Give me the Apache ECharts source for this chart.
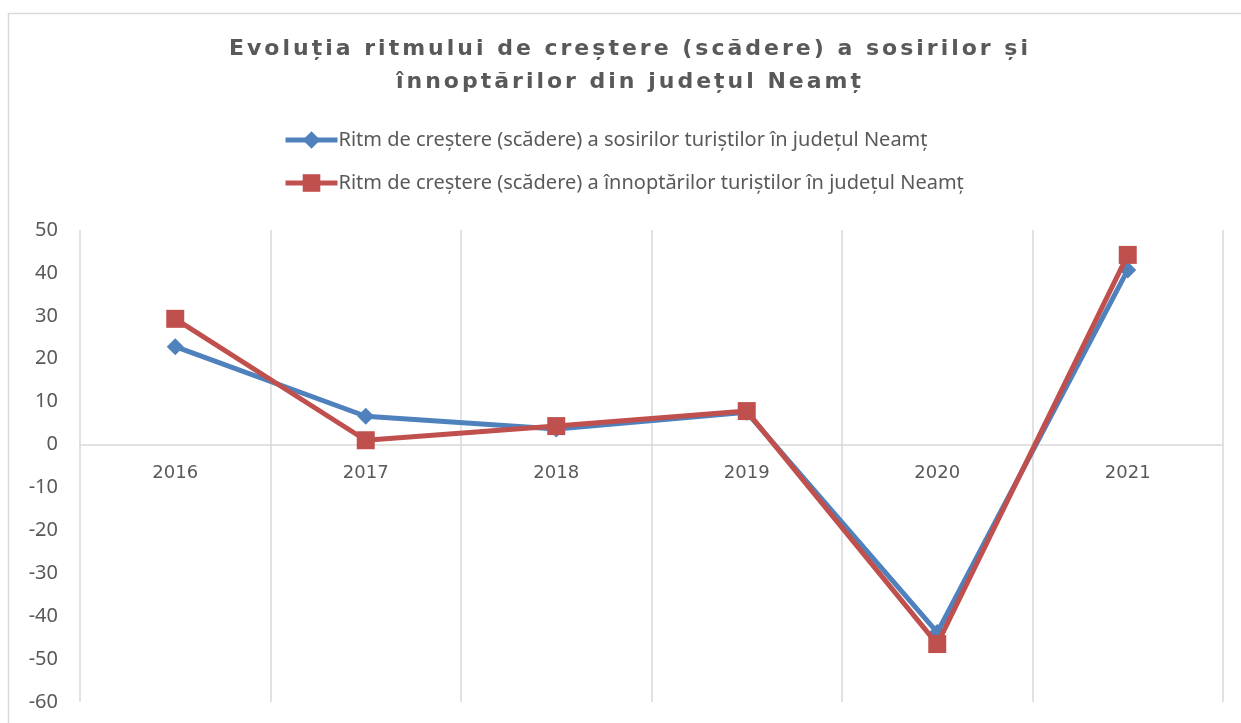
<!DOCTYPE html>
<html lang="ro">
<head>
    <meta charset="UTF-8">
    <title>Evoluția ritmului de creștere</title>
    <script src="https://cdn.jsdelivr.net/npm/echarts@6/dist/echarts.min.js"></script>
    <style>
        html, body { margin: 0; padding: 0; background: #fff; }
        .wrap { position: relative; width: 1241px; height: 723px; }
        #chart { width: 1241px; height: 723px; }
        /* titlul e in HTML pentru letter-spacing */
        .titlu {
            position: absolute;
            left: 0;
            top: 31px;
            width: 1260px;
            text-align: center;
            font-family: 'DejaVu Sans', sans-serif;
            font-weight: bold;
            font-size: 22px;
            line-height: 33px;
            letter-spacing: 3px;
            color: #595959;
            pointer-events: none;
        }
    </style>
</head>
<body>
    <div class="wrap">
        <div id="chart"></div>
        <div class="titlu">Evoluția ritmului de creștere (scădere) a sosirilor și<br>înnoptărilor din județul Neamț</div>
    </div>
<script>
    // date
    var years = ['2016', '2017', '2018', '2019', '2020', '2021'];
    var sosiri = [22.8, 6.6, 3.6, 7.5, -43.8, 40.7];
    var innoptari = [29.3, 1.0, 4.3, 7.8, -46.5, 44.2];
    var numeSosiri = 'Ritm de creștere (scădere) a sosirilor turiștilor în județul Neamț';
    var numeInnoptari = 'Ritm de creștere (scădere) a înnoptărilor turiștilor în județul Neamț';

    var myChart = echarts.init(document.getElementById('chart'));
    var option = {
        animation: false,
        graphic: [{
            type: 'rect',
            shape: { x: 8.5, y: 13.5, width: 1300, height: 800 },
            style: { fill: null, stroke: '#d9d9d9', lineWidth: 1.5 },
            silent: true
        }],
        legend: {
            orient: 'vertical',
            left: 278,
            top: 125,
            itemWidth: 52,
            itemHeight: 22,
            itemGap: 23,
            lineStyle: { width: 5 },
            textStyle: {
                fontFamily: 'Noto Sans',
                fontSize: 20,
                color: '#595959',
                padding: [0, 0, 0, -4]
            },
            data: [numeSosiri, numeInnoptari]
        },
        grid: {
            left: 80,
            right: 18,
            top: 230,
            bottom: 21,
            outerBoundsMode: 'none'
        },
        xAxis: {
            type: 'category',
            data: years,
            boundaryGap: true,
            position: 'bottom',
            offset: -257.5,
            axisLine: { onZero: false, lineStyle: { color: '#d9d9d9', width: 1.5 } },
            axisTick: { show: false },
            axisLabel: {
                margin: 20,
                fontFamily: 'DejaVu Sans',
                fontSize: 18,
                color: '#595959'
            },
            splitLine: { show: true, lineStyle: { color: '#d9d9d9', width: 1.5 } }
        },
        yAxis: {
            type: 'value',
            min: -60,
            max: 50,
            interval: 10,
            axisLine: { show: false },
            axisTick: { show: false },
            splitLine: { show: false },
            axisLabel: {
                margin: 22,
                fontFamily: 'Noto Sans',
                fontSize: 20,
                color: '#595959'
            }
        },
        series: [{
            name: numeSosiri,
            type: 'line',
            data: sosiri,
            symbol: 'diamond',
            symbolSize: 17,
            lineStyle: { color: '#4F81BD', width: 5 },
            itemStyle: { color: '#4F81BD' },
            z: 2
        }, {
            name: numeInnoptari,
            type: 'line',
            data: innoptari,
            symbol: 'rect',
            symbolSize: 18,
            lineStyle: { color: '#C0504D', width: 5 },
            itemStyle: { color: '#C0504D' },
            z: 3
        }]
    };
    myChart.setOption(option);
</script>
</body>
</html>
